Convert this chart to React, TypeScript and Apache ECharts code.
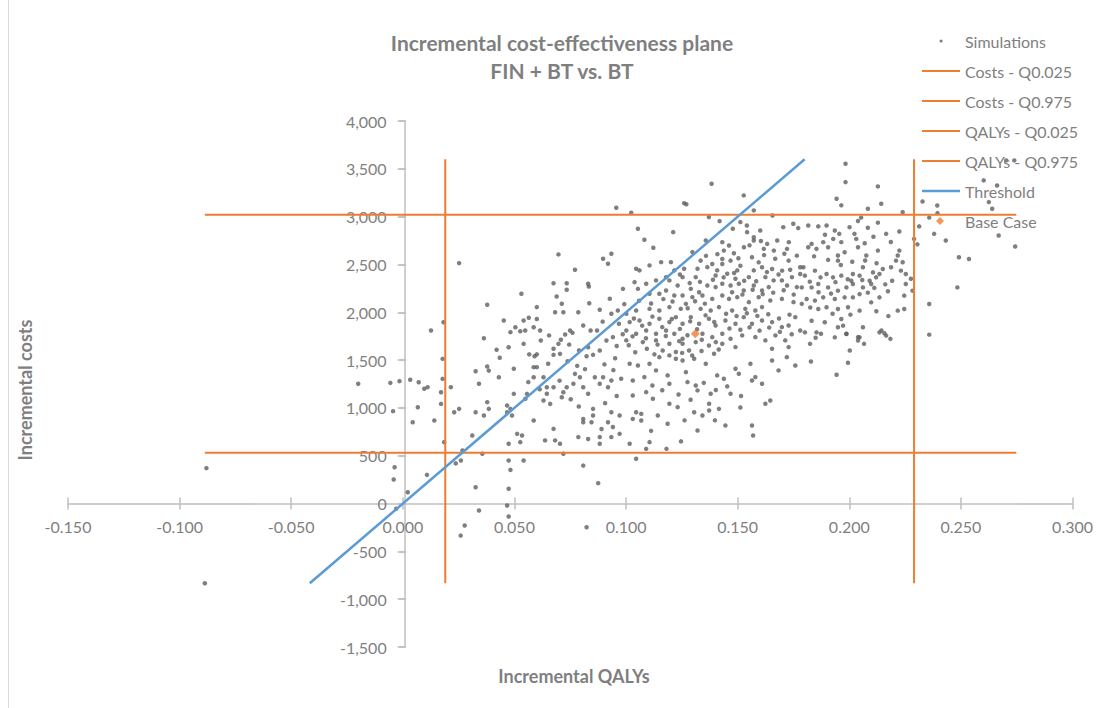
import React, { useEffect, useRef } from "react";
import * as echarts from "echarts";

// Tick settings
const xMin = -0.15, xMax = 0.3, xStep = 0.05;
const yMin = -1500, yMax = 4000, yStep = 500;

// Summary values
const costsQ025 = 530;
const costsQ975 = 3020;
const qalysQ025 = 0.019;
const qalysQ975 = 0.229;
const thresholdWtp = 20000;
const baseCase: [number, number] = [0.131, 1775];
const qalyExtent = [-0.0887, 0.2748];
const costExtent = [-834, 3600];

// Simulations [incremental QALYs, incremental costs]
const simulations: [number, number][] = [
  [-0.088,370],[-0.0887,-834],[-0.020,1252],[-0.0056,1262],[-0.0015,1280],[0.0033,1294],[0.0071,1269],[0.0096,1200],[-0.0044,966],[0.0067,1007],[0.0044,850],[-0.0037,380],[-0.0041,251],[0.0022,118],[-0.003,-55],[0.0108,300],
  [0.0252,2514],[0.0697,2605],[0.0771,2444],[0.0897,2559],[0.0934,2612],[0.0919,2507],[0.0675,2304],[0.0734,2304],[0.0734,2235],[0.0830,2298],[0.0833,2270],[0.0531,2193],[0.0378,2078],[0.0689,2165],[0.0712,2089],[0.0600,2054],[0.0682,2001],[0.0719,2001],[0.0786,2001],[0.0835,2095],[0.0882,2026],[0.0927,2141],[0.0934,1984],[0.0452,1914],[0.0504,1844],[0.0541,1914],[0.0564,1942],[0.0586,1844],[0.0600,1929],[0.0526,1802],[0.0548,1810],[0.0482,1792],[0.0615,1810],[0.0749,1810],[0.0727,1768],[0.0760,1785],[0.0808,1862],[0.0841,1810],[0.0870,1810],[0.0912,1705],[0.0941,1740],[0.0363,1729],[0.0420,1608],[0.0474,1635],[0.0434,1524],[0.0541,1670],[0.0566,1560],[0.0590,1540],[0.0600,1560],[0.0675,1618],[0.0697,1670],[0.0704,1565],[0.0675,1555],[0.0830,1635],[0.0852,1555],[0.0823,1540],[0.0882,1600],[0.0378,1433],[0.0385,1390],[0.0497,1409],[0.0326,1384],[0.0341,1252],[0.0430,1321],[0.0586,1426],[0.0600,1426],[0.0586,1321],[0.0630,1321],[0.0645,1216],[0.0675,1216],[0.0645,1148],[0.0630,1077],[0.0660,1042],[0.0719,1164],[0.0712,1112],[0.0734,1216],[0.0771,1356],[0.0793,1321],[0.0764,1252],[0.0808,1216],[0.0830,1148],[0.0860,1321],[0.0882,1252],[0.0897,1321],[0.0919,1216],[0.0934,1286],[0.0497,1147],[0.0556,1147],[0.0549,1095],[0.0467,1025],[0.0482,990],[0.0467,955],[0.0489,920],[0.0378,1060],[0.0385,990],[0.0363,920],[0.0326,955],[0.0252,990],[0.0230,955],[0.0141,868],[0.0586,868],[0.0675,781],[0.0808,885],[0.0808,850],[0.0852,990],[0.0852,920],[0.0845,850],[0.0890,780],[0.0919,850],[0.0934,955],[0.0941,800],[0.0512,729],[0.0534,712],[0.0526,642],[0.0474,625],[0.0637,660],[0.0682,660],[0.0704,625],[0.0786,695],[0.0830,675],[0.0882,695],[0.0882,625],[0.0934,695],[0.0311,712],[0.0185,642],[0.0356,520],[0.0267,555],[0.0719,520],[0.0474,450],[0.0541,450],[0.0260,450],[0.0237,420],[0.0482,352],[0.0808,397],[0.0326,171],[0.0474,154],[0.0875,213],[0.0467,-21],[0.0341,-73],[0.0474,-136],[0.0277,-230],[0.0259,-335],[0.0823,-248],[0.0126,1810],[0.0182,1896],[0.0178,1513],[0.0178,1304],[0.0171,1164],[0.0171,1042],[0.0215,1217],[0.0111,1217],
  [0.1383,3344],[0.1527,3222],[0.1260,3141],[0.1270,3130],[0.0956,3093],[0.1023,3041],[0.1371,2995],[0.1419,2953],[0.1572,3065],[0.1656,3012],[0.1512,2943],[0.1541,2908],[0.1053,2873],[0.1211,2838],[0.1478,2873],[0.1542,2838],[0.1601,2855],[0.1704,2890],[0.1749,2925],[0.1771,2880],[0.1082,2758],[0.1122,2674],[0.1357,2750],[0.1431,2733],[0.1461,2698],[0.1572,2785],[0.1572,2750],[0.1632,2715],[0.1677,2750],[0.1729,2733],[0.1721,2663],[0.1662,2645],[0.1617,2663],[0.1528,2680],[0.1297,2629],[0.1438,2645],[0.1483,2617],[0.1334,2540],[0.1386,2505],[0.1431,2557],[0.1431,2505],[0.1468,2540],[0.1512,2487],[0.1564,2575],[0.1594,2522],[0.1609,2470],[0.1654,2452],[0.1699,2435],[0.1728,2540],[0.1765,2592],[0.1780,2470],[0.1780,2400],[0.1157,2524],[0.1201,2524],[0.1045,2455],[0.1060,2438],[0.1105,2490],[0.1179,2367],[0.1216,2438],[0.1260,2455],[0.1253,2367],[0.1320,2455],[0.1312,2367],[0.1364,2472],[0.1401,2385],[0.1408,2438],[0.1453,2403],[0.1490,2350],[0.1498,2438],[0.1505,2298],[0.1550,2367],[0.1572,2438],[0.1624,2367],[0.1661,2333],[0.1698,2333],[0.1743,2367],[0.1721,2280],[0.1765,2263],[0.1639,2263],[0.1609,2228],[0.1572,2280],[0.1527,2228],[0.1468,2280],[0.1431,2298],[0.1401,2263],[0.1364,2280],[0.1327,2210],[0.1290,2245],[0.1231,2280],[0.1194,2333],[0.1134,2333],[0.1090,2298],[0.1038,2315],[0.0986,2245],[0.1053,2245],[0.1105,2193],[0.1149,2193],[0.1179,2228],[0.1216,2175],[0.1253,2175],[0.1297,2158],[0.1342,2175],[0.1386,2140],[0.1431,2175],[0.1461,2140],[0.1498,2158],[0.1550,2106],[0.1594,2158],[0.1646,2123],[0.1698,2140],[0.1750,2106],[0.1787,2088],[0.1609,2054],[0.1579,2019],[0.1534,2036],[0.1475,2019],[0.1416,2054],[0.1379,2019],[0.1334,2036],[0.1268,2088],[0.1245,2036],[0.1194,2054],[0.1149,2019],[0.1105,2036],[0.1045,2019],[0.1001,1984],[0.0963,2019],[0.1016,1897],[0.1060,1914],[0.1105,1880],[0.1149,1932],[0.1194,1897],[0.1223,1949],[0.1253,1880],[0.1290,1949],[0.1327,1880],[0.1371,1932],[0.1401,1862],[0.1445,1914],[0.1490,1880],[0.1527,1949],[0.1564,1880],[0.1609,1914],[0.1654,1897],[0.1698,1845],[0.1728,1862],[0.1758,1949],[0.1780,1810],[0.1001,1810],[0.1045,1776],[0.1090,1810],[0.1134,1776],[0.1179,1810],[0.1216,1776],[0.1253,1723],[0.1342,1776],[0.1386,1740],[0.1431,1776],[0.1468,1723],[0.1520,1758],[0.1579,1740],[0.1624,1706],[0.1669,1758],[0.1713,1706],[0.1001,1706],[0.1075,1688],[0.1134,1706],[0.1194,1671],[0.1253,1671],[0.1312,1688],[0.1371,1653],[0.1431,1671],[0.1490,1636],[0.1654,1619],[0.1728,1636],[0.1164,1601],[0.1223,1584],[0.1282,1601],
  [0.1016,1461],[0.1053,1444],[0.1105,1461],[0.1149,1531],[0.1194,1549],[0.1223,1514],[0.1253,1496],[0.1305,1514],[0.1357,1461],[0.1394,1566],[0.1134,1392],[0.1082,1322],[0.1030,1287],[0.0978,1305],[0.1186,1340],[0.1194,1252],[0.1268,1374],[0.1275,1270],[0.1312,1235],[0.1320,1183],[0.1408,1340],[0.1438,1305],[0.1490,1409],[0.1505,1357],[0.1557,1461],[0.1579,1322],[0.1564,1287],[0.1609,1252],[0.1654,1496],[0.1683,1392],[0.1720,1531],[0.1758,1444],[0.1646,1078],[0.1624,1043],[0.1468,1148],[0.1379,1148],[0.1372,1043],[0.1416,990],[0.1372,973],[0.1305,955],[0.1342,920],[0.1320,764],[0.1445,816],[0.1564,816],[0.1569,711],[0.1231,1008],[0.1194,1043],[0.1186,834],[0.1142,920],[0.1120,1095],[0.1090,1165],[0.1030,1130],[0.1045,955],[0.1068,938],[0.1030,885],[0.1068,868],[0.0971,920],[0.0971,729],[0.1016,625],[0.1105,642],[0.1246,650],[0.1090,572],[0.1181,572],[0.1045,468],
  [0.1983,3553],[0.1983,3361],[0.2128,3316],[0.1943,3187],[0.1964,3118],[0.2143,3135],[0.2083,3083],[0.2239,3047],[0.2328,3159],[0.2395,3037],[0.2358,2990],[0.2053,2990],[0.2039,2955],[0.2128,2937],[0.1816,2908],[0.1861,2898],[0.1898,2908],[0.2001,2890],[0.2083,2884],[0.2313,2898],[0.2380,2820],[0.2432,2750],[0.2290,2767],[0.2305,2710],[0.2165,2820],[0.2224,2845],[0.1935,2855],[0.2023,2820],[0.2031,2767],[0.1831,2715],[0.1883,2733],[0.1928,2767],[0.1964,2733],[0.2039,2680],[0.2076,2593],[0.1816,2680],[0.1853,2663],[0.1905,2680],[0.1979,2628],[0.1949,2593],[0.1949,2540],[0.2128,2645],[0.2224,2645],[0.2217,2593],[0.2239,2523],[0.2209,2540],[0.2187,2470],[0.2231,2435],[0.2253,2400],[0.2276,2350],[0.2283,2226],[0.2253,2296],[0.2246,2174],[0.2246,2034],[0.2217,2017],[0.2150,2452],[0.2106,2417],[0.2061,2470],[0.2135,2400],[0.2120,2365],[0.2091,2330],[0.2046,2383],[0.2016,2400],[0.2009,2330],[0.1964,2383],[0.1927,2365],[0.1898,2400],[0.1846,2435],[0.1801,2383],[0.1794,2470],[0.1831,2260],[0.1861,2296],[0.1905,2260],[0.1949,2226],[0.1987,2260],[0.2016,2296],[0.2061,2260],[0.2098,2296],[0.2046,2190],[0.2016,2156],[0.1979,2156],[0.1935,2139],[0.1883,2156],[0.1846,2122],[0.1809,2139],[0.1787,2260],[0.1861,2034],[0.1898,2052],[0.1949,2034],[0.1994,2052],[0.2046,2017],[0.2135,2156],[0.2098,2104],[0.1964,1930],[0.1972,1860],[0.1831,1912],[0.1890,1895],[0.1949,1843],[0.2061,1843],[0.2135,1790],[0.2165,1756],[0.2046,1738],[0.1987,1773],[0.1935,1738],[0.1853,1790],[0.1801,1790],[0.2358,2087],[0.2358,1766],[0.2484,2260],[0.2491,2575],[0.2536,2557],[0.2602,3379],[0.2662,3326],[0.2625,3152],[0.2640,3083],[0.2669,2803],[0.2743,2688],[0.2703,3588],[0.2739,3588],[0.2394,3117],
  [0.1824,1670],[0.1849,1733],[0.1873,1775],[0.1828,1485],[0.1943,1346],[0.1994,1472],[0.2002,1600],[0.2039,1705],[0.2039,1740],[0.2066,1670],[0.1987,1775],[0.2157,1781],[0.2184,1722],[0.2144,1810],
  [0.1035,1935],[0.1072,1860],[0.1118,1955],[0.1162,1845],[0.1205,1930],[0.1241,1826],[0.1287,1905],[0.1318,1822],[0.1356,1968],[0.1395,1898],[0.1029,1748],[0.1089,1728],[0.1141,1662],[0.1178,1752],[0.1238,1698],[0.1275,1760],[0.1339,1712],[0.1402,1688],[0.1041,1582],[0.1093,1618],[0.1127,1560],[0.1251,1575],[0.1296,1548],[0.1338,1595],[0.1415,1610],[0.1012,1655],[0.0985,1770],[0.0968,1880],[0.0992,2085],[0.1058,2120],[0.1112,2091],[0.1167,2138],[0.1208,2112],[0.1276,2042],[0.1309,2115],[0.1353,2090],
  [0.1448,1985],[0.1495,1960],[0.1541,1990],[0.1588,1962],[0.1637,1980],[0.1685,1935],[0.1732,1975],[0.1463,1830],[0.1512,1818],[0.1553,1842],[0.1598,1808],[0.1641,1840],[0.1689,1795],[0.1742,1770],[0.1475,2210],[0.1521,2185],[0.1567,2235],[0.1612,2190],[0.1659,2205],[0.1706,2230],[0.1751,2185],[0.1389,2340],[0.1437,2365],[0.1484,2410],[0.1529,2330],[0.1583,2325],[0.1631,2420],[0.1683,2395],[0.1735,2445],[0.1285,2305],[0.1331,2318],[0.1241,2395],[0.1358,2590],[0.1409,2608],[0.1503,2565],[0.1618,2598],[0.1668,2560],[0.1709,2612],[0.1553,2700],[0.1604,2745],
  [0.1842,2585],[0.1905,2548],[0.1962,2495],[0.2013,2528],[0.2071,2542],[0.2122,2512],[0.1823,2320],[0.1871,2365],[0.1938,2315],[0.1993,2345],[0.2058,2338],[0.2112,2255],[0.2161,2292],[0.2192,2330],[0.1862,2210],[0.1918,2195],[0.2083,2205],[0.2173,2220],[0.1825,2050],[0.1925,1985],[0.2005,1975],[0.2121,2010],[0.2175,1960],[0.1891,2810],[0.1955,2820],[0.2108,2790],[0.2186,2735],[0.2069,2722],
  [0.0618,1705],[0.0655,1758],[0.0708,1712],[0.0745,1662],[0.0789,1602],[0.0651,1462],[0.0738,1488],[0.0781,1440],[0.0816,1405],[0.0903,1455],[0.0951,1520],[0.0562,1270],[0.0613,1195],[0.0702,1285],[0.0752,1090],[0.0788,1015],[0.0906,1050],[0.0958,1125],[0.0943,1395],[0.0895,1902],[0.0958,1648],
  [0.1118,1235],[0.1162,1185],[0.1235,1140],[0.1289,1085],[0.1348,1262],[0.1402,1188],[0.1453,1225],[0.1515,1125],[0.1262,870],[0.1112,760],[0.1398,870],[0.1512,1005]
];

const FONT = "Lato, 'Open Sans', sans-serif";
const GREY = "#7f7f7f";
const AXIS_GREY = "#bfbfbf";
const ORANGE = "#ed7d31";
const BLUE = "#5b9bd5";

const W = 1096, H = 708;
const gridLeft = 68, gridRight = 18, gridTop = 121, gridBottom = 61;
const plotW = W - gridLeft - gridRight;
const plotH = H - gridTop - gridBottom;
// distance of the zero lines from the plot edges
const zeroFromLeft = ((0 - xMin) / (xMax - xMin)) * plotW;
const zeroFromBottom = ((0 - yMin) / (yMax - yMin)) * plotH;

const fmtX = (v: number) => v.toFixed(3);
const fmtY = (v: number) => v.toLocaleString("en-US");

const dotIcon = "path://M0 0M38 0M38 14M0 14M17.5 7a1.6 1.6 0 1 0 3.2 0a1.6 1.6 0 1 0 -3.2 0z";
const diamondIcon = "path://M0 0M38 0M38 14M0 14M18 3L22 7L18 11L14 7Z";
const lineIcon = "path://M0 0M38 0M38 14M0 14M0 6L38 6L38 8L0 8Z";
const thickLineIcon = "path://M0 0M38 0M38 14M0 14M0 5.75L38 5.75L38 8.25L0 8.25Z";

export default function App() {
  const ref = useRef<HTMLDivElement>(null);
  useEffect(() => {
    if (!ref.current) return;
    const chart = echarts.init(ref.current, null, { renderer: "svg" });
    const baseAxisX = {
      type: "value" as const,
      min: xMin,
      max: xMax,
      interval: xStep,
      splitLine: { show: false },
      axisTick: { show: true, length: 6, lineStyle: { color: AXIS_GREY, width: 1.5 } },
    };
    const baseAxisY = {
      type: "value" as const,
      min: yMin,
      max: yMax,
      interval: yStep,
      splitLine: { show: false },
      axisTick: { show: true, length: 7, lineStyle: { color: AXIS_GREY, width: 1.5 } },
    };
    chart.setOption({
      animation: false,
      backgroundColor: "#ffffff",
      textStyle: { fontFamily: FONT },
      grid: { left: gridLeft, right: gridRight, top: gridTop, bottom: gridBottom, containLabel: false },
      xAxis: [
        {
          ...baseAxisX,
          position: "bottom",
          offset: -zeroFromBottom,
          axisLine: { show: true, onZero: false, lineStyle: { color: AXIS_GREY, width: 1.5 } },
          axisLabel: { show: true, formatter: fmtX, color: GREY, fontSize: 16, fontFamily: FONT, margin: 15 },
        },
        {
          ...baseAxisX,
          position: "top",
          offset: -(plotH - zeroFromBottom),
          axisLine: { show: false, onZero: false },
          axisLabel: { show: false },
        },
      ],
      yAxis: [
        {
          ...baseAxisY,
          position: "left",
          offset: -zeroFromLeft,
          axisLine: { show: true, onZero: false, lineStyle: { color: AXIS_GREY, width: 1.5 } },
          axisLabel: { show: true, formatter: fmtY, color: GREY, fontSize: 16, fontFamily: FONT, margin: 18 },
        },
        {
          ...baseAxisY,
          position: "right",
          offset: -(plotW - zeroFromLeft),
          axisLine: { show: false, onZero: false },
          axisLabel: { show: false },
        },
      ],
      legend: {
        orient: "vertical",
        left: 922,
        top: 33,
        padding: 0,
        itemWidth: 38,
        itemHeight: 14,
        itemGap: 14,
        textStyle: { color: GREY, fontSize: 16, lineHeight: 14, fontFamily: FONT },
        data: [
          { name: "Simulations", icon: dotIcon },
          { name: "Costs - Q0.025", icon: lineIcon },
          { name: "Costs - Q0.975", icon: lineIcon },
          { name: "QALYs - Q0.025", icon: lineIcon },
          { name: "QALYs - Q0.975", icon: lineIcon },
          { name: "Threshold", icon: thickLineIcon },
          { name: "Base Case", icon: diamondIcon },
        ],
      },
      graphic: [
        { type: "line", shape: { x1: 8.5, y1: 0, x2: 8.5, y2: H }, style: { stroke: "#d9d9d9", lineWidth: 1 } },
        {
          type: "text", x: 562, y: 42,
          style: { text: "Incremental cost-effectiveness plane", fill: GREY, font: `bold 21px ${FONT}`, textAlign: "center", textVerticalAlign: "middle" },
        },
        {
          type: "text", x: 562, y: 70,
          style: { text: "FIN + BT vs. BT", fill: GREY, font: `bold 21px ${FONT}`, textAlign: "center", textVerticalAlign: "middle" },
        },
        {
          type: "text", x: 574, y: 676,
          style: { text: "Incremental QALYs", fill: GREY, font: `bold 18px ${FONT}`, textAlign: "center", textVerticalAlign: "middle" },
        },
        {
          type: "text", x: 25, y: 390, rotation: Math.PI / 2,
          style: { text: "Incremental costs", fill: GREY, font: `bold 18px ${FONT}`, textAlign: "center", textVerticalAlign: "middle" },
        },
      ],
      series: [
        {
          name: "Simulations",
          type: "scatter",
          data: simulations,
          symbol: "circle",
          symbolSize: 4.5,
          itemStyle: { color: "#5f5f5f" },
          z: 2,
        },
        {
          name: "Costs - Q0.025",
          type: "line",
          symbol: "none",
          data: [[qalyExtent[0], costsQ025], [qalyExtent[1], costsQ025]],
          lineStyle: { color: ORANGE, width: 2 },
          itemStyle: { color: ORANGE },
          z: 3,
        },
        {
          name: "Costs - Q0.975",
          type: "line",
          symbol: "none",
          data: [[qalyExtent[0], costsQ975], [qalyExtent[1], costsQ975]],
          lineStyle: { color: ORANGE, width: 2 },
          itemStyle: { color: ORANGE },
          z: 3,
        },
        {
          name: "QALYs - Q0.025",
          type: "line",
          symbol: "none",
          data: [[qalysQ025, costExtent[0]], [qalysQ025, costExtent[1]]],
          lineStyle: { color: ORANGE, width: 2 },
          itemStyle: { color: ORANGE },
          z: 3,
        },
        {
          name: "QALYs - Q0.975",
          type: "line",
          symbol: "none",
          data: [[qalysQ975, costExtent[0]], [qalysQ975, costExtent[1]]],
          lineStyle: { color: ORANGE, width: 2 },
          itemStyle: { color: ORANGE },
          z: 3,
        },
        {
          name: "Threshold",
          type: "line",
          symbol: "none",
          data: [[costExtent[0] / thresholdWtp, costExtent[0]], [costExtent[1] / thresholdWtp, costExtent[1]]],
          lineStyle: { color: BLUE, width: 2.5 },
          itemStyle: { color: BLUE },
          z: 4,
        },
        {
          name: "Base Case",
          type: "scatter",
          data: [baseCase],
          symbol: "diamond",
          symbolSize: 9,
          itemStyle: { color: ORANGE },
          z: 5,
        },
      ],
    });
    return () => chart.dispose();
  }, []);
  return (
    <div
      ref={ref}
      style={{ position: "absolute", left: 0, top: 0, width: W, height: H, background: "#fff" }}
    />
  );
}
